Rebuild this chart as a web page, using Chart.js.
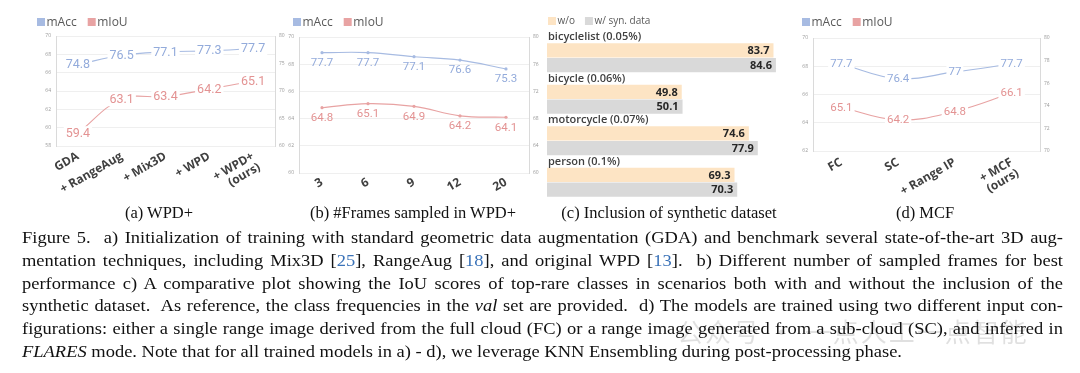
<!DOCTYPE html>
<html><head><meta charset="utf-8">
<script src="https://cdn.jsdelivr.net/npm/chart.js@4.4.1/dist/chart.umd.min.js"></script>
<style>
html,body{margin:0;padding:0;background:#fff;}
body{width:1080px;height:373px;overflow:hidden;position:relative;}
canvas{position:absolute;}
.sub{position:absolute;top:204px;font-family:"Liberation Serif","Times New Roman",serif;font-size:16.5px;line-height:18px;color:#111;white-space:nowrap;transform:translateX(-50%);}
.cap{position:absolute;left:22px;top:226px;font-family:"Liberation Serif","Times New Roman",serif;font-size:17.5px;color:#111;transform-origin:0 0;}
.cap div{height:22.8px;line-height:22.8px;white-space:nowrap;}
.ref{color:#3a72b8;}
.wm{position:absolute;left:677px;top:316px;font-family:"Noto Sans CJK SC",sans-serif;font-size:26px;line-height:30px;color:rgba(0,0,0,0.12);white-space:nowrap;letter-spacing:2px;}
</style></head>
<body>
<canvas id="ca" width="300" height="205" style="left:0;top:0;width:300px;height:205px"></canvas>
<canvas id="cb" width="265" height="205" style="left:285px;top:0;width:265px;height:205px"></canvas>
<canvas id="cc" width="245" height="210" style="left:540px;top:0;width:245px;height:210px"></canvas>
<canvas id="cd" width="290" height="205" style="left:790px;top:0;width:290px;height:205px"></canvas>

<div class="sub" style="left:159px">(a) WPD+</div>
<div class="sub" style="left:413px">(b) #Frames sampled in WPD+</div>
<div class="sub" style="left:669px">(c) Inclusion of synthetic dataset</div>
<div class="sub" style="left:925px">(d) MCF</div>

<div class="cap" id="cap">
<div>Figure 5.&nbsp; a) Initialization of training with standard geometric data augmentation (GDA) and benchmark several state-of-the-art 3D aug-</div>
<div>mentation techniques, including Mix3D [<span class="ref">25</span>], RangeAug [<span class="ref">18</span>], and original WPD [<span class="ref">13</span>].&nbsp; b) Different number of sampled frames for best</div>
<div>performance c) A comparative plot showing the IoU scores of top-rare classes in scenarios both with and without the inclusion of the</div>
<div>synthetic dataset.&nbsp; As reference, the class frequencies in the <i>val</i> set are provided.&nbsp; d) The models are trained using two different input con-</div>
<div>figurations: either a single range image derived from the full cloud (FC) or a range image generated from a sub-cloud (SC), and inferred in</div>
<div><i>FLARES</i> mode. Note that for all trained models in a) - d), we leverage KNN Ensembling during post-processing phase.</div>
</div>
<div class="wm">公众号 · 一点人工一点智能</div>

<script>
// ---------- data ----------
const catsA = ['GDA', '+ RangeAug', '+ Mix3D', '+ WPD', ['+ WPD+', '(ours)']];
const accA = [74.8, 76.5, 77.1, 77.3, 77.7];
const iouA = [59.4, 63.1, 63.4, 64.2, 65.1];
const ticksA_left = [58, 60, 62, 64, 66, 68, 70];
const ticksA_right = [60, 65, 70, 75, 80];

const catsB = ['3', '6', '9', '12', '20'];
const accB = [77.7, 77.7, 77.1, 76.6, 75.3];
const iouB = [64.8, 65.1, 64.9, 64.2, 64.1];
const ticksB_left = [60, 62, 64, 66, 68, 70];
const ticksB_right = [60, 64, 68, 72, 76, 80];

const catsC = ['bicyclelist (0.05%)', 'bicycle (0.06%)', 'motorcycle (0.07%)', 'person (0.1%)'];
const woC = [83.7, 49.8, 74.6, 69.3];
const withC = [84.6, 50.1, 77.9, 70.3];
const rangeC = [0, 85];

const catsD = ['FC', 'SC', '+ Range IP', ['+ MCF', '(ours)']];
const accD = [77.7, 76.4, 77, 77.7];
const iouD = [65.1, 64.2, 64.8, 66.1];
const ticksD_left = [62, 64, 66, 68, 70];
const ticksD_right = [70, 72, 74, 76, 78, 80];

const seriesNames = ['mAcc', 'mIoU'];
const barNames = ['w/o', 'w/ syn. data'];

// ---------- caption fitting ----------
(function () {
  const cap = document.getElementById('cap');
  const lines = cap.querySelectorAll('div');
  const widths = [];
  lines.forEach(el => { el.style.display = 'inline-block'; widths.push(el.getBoundingClientRect().width); el.style.display = 'block'; });
  const s = 880 / widths[5];
  const W = 1041 / s;
  cap.style.width = W + 'px';
  for (let i = 0; i < 5; i++) {
    const n = (lines[i].textContent.match(/[ \u00a0]/g) || []).length;
    lines[i].style.wordSpacing = ((W - widths[i]) / n) + 'px';
  }
  cap.style.transform = 'scaleX(' + s + ')';
})();

// ---------- styles ----------
const BLUE = '#a7bbe2', PINK = '#e8a3a3';
const BLUE_T = '#93abdb', PINK_T = '#e39393';
const GRID = '#efefef', AXIS = '#dadada';

const miniLegend = {
  id: 'miniLegend',
  afterDraw(chart, args, o) {
    const ctx = chart.ctx;
    ctx.save();
    ctx.font = o.font;
    ctx.textBaseline = 'middle';
    let x = o.x;
    chart.data.datasets.forEach(ds => {
      ctx.fillStyle = ds.backgroundColor;
      ctx.fillRect(x, o.y - 4, 8, 8);
      x += 9.5;
      ctx.fillStyle = o.color;
      ctx.fillText(ds.label, x, o.y + 0.5);
      x += ctx.measureText(ds.label).width + o.gap;
    });
    ctx.restore();
  }
};

const valueLabels = {
  id: 'valueLabels',
  afterDatasetsDraw(chart, args, o) {
    const ctx = chart.ctx;
    ctx.save();
    ctx.font = o.font;
    chart.data.datasets.forEach((ds, i) => {
      const meta = chart.getDatasetMeta(i);
      meta.data.forEach((el, j) => {
        const t = String(ds.data[j]);
        const w = ctx.measureText(t).width;
        if (o.mode === 'center') {
          ctx.fillStyle = '#fff';
          ctx.fillRect(el.x - w / 2 - 2, el.y - 7, w + 4, 14);
          ctx.fillStyle = ds.textColor;
          ctx.textAlign = 'center'; ctx.textBaseline = 'middle';
          ctx.fillText(t, el.x, el.y + 0.5);
        } else if (o.mode === 'below') {
          ctx.fillStyle = ds.textColor;
          ctx.textAlign = 'center'; ctx.textBaseline = 'middle';
          ctx.fillText(t, el.x, el.y + o.offset);
        } else if (o.mode === 'barEnd') {
          ctx.fillStyle = o.color;
          ctx.textAlign = 'right'; ctx.textBaseline = 'middle';
          ctx.fillText(t, el.x - 4, el.y + 0.5);
        }
      });
    });
    if (o.mode === 'barEnd') {
      const meta0 = chart.getDatasetMeta(0);
      ctx.font = o.catFont;
      ctx.fillStyle = o.catColor;
      ctx.textAlign = 'left'; ctx.textBaseline = 'bottom';
      chart.data.labels.forEach((lab, j) => {
        const el = meta0.data[j];
        ctx.fillText(lab, chart.chartArea.left + 1, el.y - el.height / 2 - 0.5);
      });
    }
    ctx.restore();
  }
};

function lineChart(id, cats, acc, iou, tl, tr, cfg) {
  const tickFont = { family: 'Open Sans', size: 5 };
  return new Chart(document.getElementById(id), {
    type: 'line',
    data: {
      labels: cats,
      datasets: [
        { label: seriesNames[0], data: acc, yAxisID: 'y1', borderColor: BLUE, backgroundColor: BLUE, textColor: BLUE_T,
          borderWidth: 1.1, tension: 0.4, pointRadius: cfg.pointRadius, pointBackgroundColor: BLUE, pointBorderWidth: 0 },
        { label: seriesNames[1], data: iou, yAxisID: 'y', borderColor: PINK, backgroundColor: PINK, textColor: PINK_T,
          borderWidth: 1.1, tension: 0.4, pointRadius: cfg.pointRadius, pointBackgroundColor: PINK, pointBorderWidth: 0 }
      ]
    },
    options: {
      responsive: false, animation: false, devicePixelRatio: 1,
      layout: { padding: { top: cfg.top, left: 0, right: 0, bottom: 0 } },
      plugins: {
        legend: { display: false }, tooltip: { enabled: false },
        miniLegend: { x: cfg.legX, y: 22, font: '12px "Open Sans"', color: '#595959', gap: 11 },
        valueLabels: { mode: cfg.labelMode, offset: cfg.labelOffset, font: cfg.labelFont }
      },
      scales: {
        x: {
          offset: true,
          grid: { display: false }, border: { display: false },
          ticks: { autoSkip: false, minRotation: 30, maxRotation: 30, padding: cfg.xpad, color: '#404040',
                   font: { family: 'Open Sans', size: 12, weight: 'bold', lineHeight: 1.05 } },
          afterFit: s => { s.height = cfg.xh; }
        },
        y: {
          position: 'left', min: tl[0], max: tl[tl.length - 1],
          afterBuildTicks: s => { s.ticks = tl.map(v => ({ value: v })); },
          grid: { color: GRID, drawTicks: false, lineWidth: 1 },
          border: { display: true, color: AXIS },
          ticks: { color: '#9a9a9a', font: tickFont, padding: 5 },
          afterFit: s => { s.width = cfg.lw; }
        },
        y1: {
          position: 'right', min: tr[0], max: tr[tr.length - 1],
          afterBuildTicks: s => { s.ticks = tr.map(v => ({ value: v })); },
          grid: { drawOnChartArea: false, drawTicks: false },
          border: { display: true, color: AXIS },
          ticks: { color: '#9a9a9a', font: tickFont, padding: 4 },
          afterFit: s => { s.width = cfg.rw; }
        }
      }
    },
    plugins: [miniLegend, valueLabels]
  });
}

lineChart('ca', catsA, accA, iouA, ticksA_left, ticksA_right,
  { top: 36, lw: 56, rw: 25, xh: 59, xpad: -4, legX: 37, pointRadius: 0, labelMode: 'center', labelFont: '12.5px Roboto' });
lineChart('cb', catsB, accB, iouB, ticksB_left, ticksB_right,
  { top: 37, lw: 14, rw: 21, xh: 32, xpad: -5, legX: 8, pointRadius: 1.6, labelMode: 'below', labelOffset: 10.5, labelFont: '11.5px Roboto' });
lineChart('cd', catsD, accD, iouD, ticksD_left, ticksD_right,
  { top: 38, lw: 23, rw: 40, xh: 54, xpad: -3, legX: 12, pointRadius: 0, labelMode: 'center', labelFont: '11.5px Roboto' });

new Chart(document.getElementById('cc'), {
  type: 'bar',
  data: {
    labels: catsC,
    datasets: [
      { label: barNames[0], data: woC, backgroundColor: '#fde4c4', borderWidth: 0 },
      { label: barNames[1], data: withC, backgroundColor: '#d9d9d9', borderWidth: 0 }
    ]
  },
  options: {
    indexAxis: 'y', responsive: false, animation: false, devicePixelRatio: 1,
    layout: { padding: { top: 37, left: 7, right: 8, bottom: 7 } },
    datasets: { bar: { categoryPercentage: 0.71, barPercentage: 0.97 } },
    plugins: {
      legend: { display: false }, tooltip: { enabled: false },
      miniLegend: { x: 8, y: 21, font: '10px "Open Sans"', color: '#595959', gap: 10 },
      valueLabels: { mode: 'barEnd', font: 'bold 11px "Open Sans"', color: '#262626',
                     catFont: '600 11px "Open Sans"', catColor: '#404040' }
    },
    scales: {
      x: { display: false, min: rangeC[0], max: rangeC[1] },
      y: { display: false }
    }
  },
  plugins: [miniLegend, valueLabels]
});
</script>
</body></html>
